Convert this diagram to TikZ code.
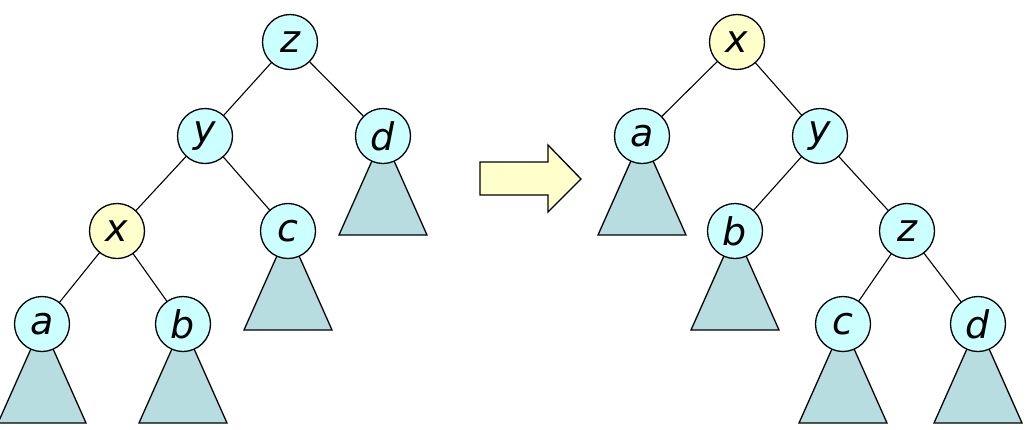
\documentclass[tikz,border=0pt]{standalone}
\usepackage{fontspec}
\setmainfont{DejaVu Sans}
\definecolor{nodecyan}{HTML}{CCFFFF}
\definecolor{nodeyellow}{HTML}{FFFFCC}
\definecolor{subtree}{HTML}{B8DDE0}
\begin{document}
\begin{tikzpicture}[x=1pt,y=-1pt,
  key/.style={circle,draw=black,line width=1.3pt,fill=nodecyan,minimum size=55pt,inner sep=0pt,
    font=\fontsize{38}{38}\selectfont\itshape},
  pivot/.style={key,fill=nodeyellow},
  edge/.style={line width=1.1pt},
  tri/.style={draw=black,line width=1.3pt,fill=subtree,line join=miter},
  bigarrow/.style={draw=black,line width=1.3pt,fill=nodeyellow,line join=miter}]
\useasboundingbox (0,0) rectangle (1027,429);
% subtrees (drawn first, apex hidden under the key circles)
\newcommand\subtri[2]{\draw[tri] (#1,#2) -- (#1-44,#2+99) -- (#1+44,#2+99) -- cycle;}
% left tree
\coordinate (lz) at (290,42);
\coordinate (ly) at (205,136);
\coordinate (ld) at (383,136);
\coordinate (lx) at (117,231);
\coordinate (lc) at (288,231);
\coordinate (la) at (42,324);
\coordinate (lb) at (183,324);
\draw[edge] (lz) -- (ly) (lz) -- (ld) (ly) -- (lx) (ly) -- (lc) (lx) -- (la) (lx) -- (lb);
\subtri{383}{136}\subtri{288}{231}\subtri{42}{324}\subtri{183}{324}
\node[key] (nz) at (lz) {z};
\node[key] (ny) at (ly) {y};
\node[key] (nd) at (ld) {d};
\node[pivot] (nx) at (lx) {x};
\node[key] (nc) at (lc) {c};
\node[key] (na) at (la) {a};
\node[key] (nb) at (lb) {b};
% right tree
\coordinate (rx) at (737,42);
\coordinate (ra) at (642,136);
\coordinate (ry) at (820,136);
\coordinate (rb) at (735,231);
\coordinate (rz) at (907,231);
\coordinate (rc) at (843,324);
\coordinate (rd) at (978,324);
\draw[edge] (rx) -- (ra) (rx) -- (ry) (ry) -- (rb) (ry) -- (rz) (rz) -- (rc) (rz) -- (rd);
\subtri{642}{136}\subtri{735}{231}\subtri{843}{324}\subtri{978}{324}
\node[pivot] (mx) at (rx) {x};
\node[key] (ma) at (ra) {a};
\node[key] (my) at (ry) {y};
\node[key] (mb) at (rb) {b};
\node[key] (mz) at (rz) {z};
\node[key] (mc) at (rc) {c};
\node[key] (md) at (rd) {d};
% rotation arrow
\draw[bigarrow] (480,162) -- (548,162) -- (548,145) -- (581,179) -- (548,212)
  -- (548,195) -- (480,195) -- cycle;
\end{tikzpicture}
\end{document}
